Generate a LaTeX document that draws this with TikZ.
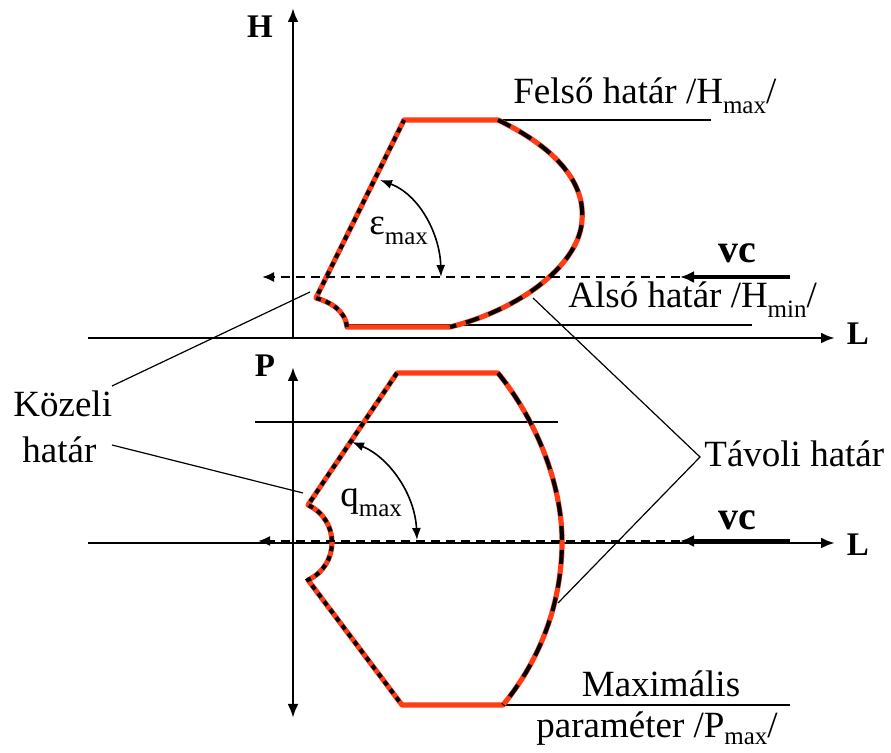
\documentclass[tikz,border=0pt]{standalone}
\usepackage{fontspec}
\setmainfont{Liberation Serif}
\usetikzlibrary{arrows.meta}
\definecolor{bred}{RGB}{255,60,20}
\newcommand\subx[1]{\raisebox{-5pt}{\fontsize{12.5}{14}\selectfont #1}}
\begin{document}
\begin{tikzpicture}[x=0.5pt,y=-0.5pt,
  axis/.style={line width=1.4pt,-{Latex[length=7pt,width=5.5pt]}},
  axis2/.style={line width=1.4pt,{Latex[length=7pt,width=5.5pt]}-{Latex[length=7pt,width=5.5pt]}},
  thinl/.style={line width=0.6pt},
  redline/.style={bred,line width=2.6pt,line join=round},
  dotb/.style={black,line width=2pt,dash pattern=on 2.5pt off 2.5pt},
  dashb/.style={black,line width=2pt,dash pattern=on 7pt off 5pt},
  guide/.style={line width=1pt,dash pattern=on 4.5pt off 3pt,-{Latex[length=6pt,width=5pt]}},
  vcarrow/.style={line width=2.2pt,-{Latex[length=7pt,width=6pt]}},
  angarr/.style={line width=0.8pt,{Latex[length=6pt,width=4.5pt]}-{Latex[length=6pt,width=4.5pt]}},
  lbl/.style={font=\fontsize{18.5}{22}\selectfont,inner sep=0pt},
  vcl/.style={font=\fontsize{20}{24}\selectfont\bfseries,inner sep=0pt},
  blbl/.style={font=\fontsize{16.5}{20}\selectfont\bfseries,inner sep=0pt}]
\useasboundingbox (0,0) rectangle (891,753);
% coordinates
\coordinate (L1s) at (88,338); \coordinate (L1e) at (835,338);
\coordinate (Hs) at (293,338); \coordinate (He) at (293,8);
\coordinate (L2s) at (88,543); \coordinate (L2e) at (835,543);
\coordinate (Ps) at (293,718); \coordinate (Pe) at (293,367);
\coordinate (A1) at (404,120); \coordinate (A2) at (498,120);
\coordinate (A3) at (582,220); \coordinate (A4) at (450,327);
\coordinate (A5) at (347,327); \coordinate (A6) at (316,298);
\coordinate (B1) at (397,373); \coordinate (B2) at (498,373);
\coordinate (B3) at (562,545); \coordinate (B4) at (503,705);
\coordinate (B5) at (402,705); \coordinate (B6) at (308,580);
\coordinate (B7) at (308,505);
\coordinate (g1s) at (680,277); \coordinate (g1e) at (262,277);
\coordinate (v1s) at (790,277);
\coordinate (g2s) at (680,541); \coordinate (g2e) at (258,541);
\coordinate (v2s) at (790,541);
\coordinate (e1) at (380,180); \coordinate (e2) at (441,277);
\coordinate (q1) at (352,442); \coordinate (q2) at (417,540);
\coordinate (t1) at (533,298); \coordinate (t2) at (558,603);
\coordinate (tj) at (700,457);
\coordinate (k1) at (112,386); \coordinate (k1e) at (310,292);
\coordinate (k2) at (112,445); \coordinate (k2e) at (303,493);
\coordinate (h1s) at (404,120); \coordinate (h1e) at (711,120);
\coordinate (h2s) at (347,325); \coordinate (h2e) at (752,325);
\coordinate (h3s) at (255,422); \coordinate (h3e) at (558,422);
\coordinate (h4s) at (485,705); \coordinate (h4e) at (790,705);
% thin guide lines
\draw[thinl] (h1s) -- (h1e);
\draw[thinl] (h2s) -- (h2e);
\draw[thinl] (h3s) -- (h3e);
\draw[thinl] (h4s) -- (h4e);
% axes
\draw[axis] (L1s) -- (L1e);
\draw[axis] (Hs) -- (He);
\draw[axis] (L2s) -- (L2e);
\draw[axis2] (Ps) -- (Pe);
% upper shape
\draw[redline] (A6) -- (A1) -- (A2) .. controls (560,150) and (585,185) .. (A3)
  .. controls (580,262) and (525,308) .. (A4) -- (A5)
  .. controls (345,310) and (330,302) .. (A6) -- cycle;
\draw[dotb] (A5) .. controls (345,310) and (330,302) .. (A6) -- (A1);
\draw[dashb] (A2) .. controls (560,150) and (585,185) .. (A3)
  .. controls (580,262) and (525,308) .. (A4);
% lower shape
\draw[redline] (B7) -- (B1) -- (B2) .. controls (540,425) and (563,490) .. (B3)
  .. controls (561,605) and (540,660) .. (B4) -- (B5) -- (B6)
  .. controls (340,565) and (340,520) .. (B7) -- cycle;
\draw[dotb] (B1) -- (B7) .. controls (340,520) and (340,565) .. (B6) -- (B5);
\draw[dashb] (B2) .. controls (540,425) and (563,490) .. (B3)
  .. controls (561,605) and (540,660) .. (B4);
% guides and vc arrows
\draw[guide] (g1s) -- (g1e);
\draw[vcarrow] (v1s) -- (g1s);
\draw[guide] (g2s) -- (g2e);
\draw[vcarrow] (v2s) -- (g2s);
% angle arcs
\draw[angarr] (e1) .. controls (420,195) and (440,235) .. (e2);
\draw[angarr] (q1) .. controls (390,458) and (415,495) .. (q2);
% leaders
\draw[thinl] (t1) -- (tj) -- (t2);
\draw[thinl] (k1) -- (k1e);
\draw[thinl] (k2) -- (k2e);
% labels
\node[blbl] (lblH) at (260,27) {H};
\node[blbl] (lblL1) at (858,334) {L};
\node[blbl] (lblP) at (265,366) {P};
\node[blbl] (lblL2) at (858,545) {L};
\node[lbl,anchor=base west] (felso) at (513,104) {Felső határ /H\subx{max}/};
\node[lbl,anchor=base west] (also) at (568,308) {Alsó határ /H\subx{min}/};
\node[vcl,anchor=base west] (vc1) at (718,263) {vc};
\node[vcl,anchor=base west] (vc2) at (718,530) {vc};
\node[lbl,anchor=base west] (tav) at (704,467) {Távoli határ};
\node[lbl,anchor=base] (maxi) at (661,697) {Maximális};
\node[lbl,anchor=base west] (param) at (536,738) {paraméter /P\raisebox{-3.5pt}{\fontsize{12.5}{14}\selectfont max}/};
\node[lbl,anchor=base west] (koz1) at (13,417) {Közeli};
\node[lbl,anchor=base west] (koz2) at (22,463) {határ};
\node[lbl,anchor=base west] (eps) at (369,235) {ε\subx{max}};
\node[lbl,anchor=base west] (qm) at (340,507) {q\subx{max}};
\end{tikzpicture}
\end{document}
